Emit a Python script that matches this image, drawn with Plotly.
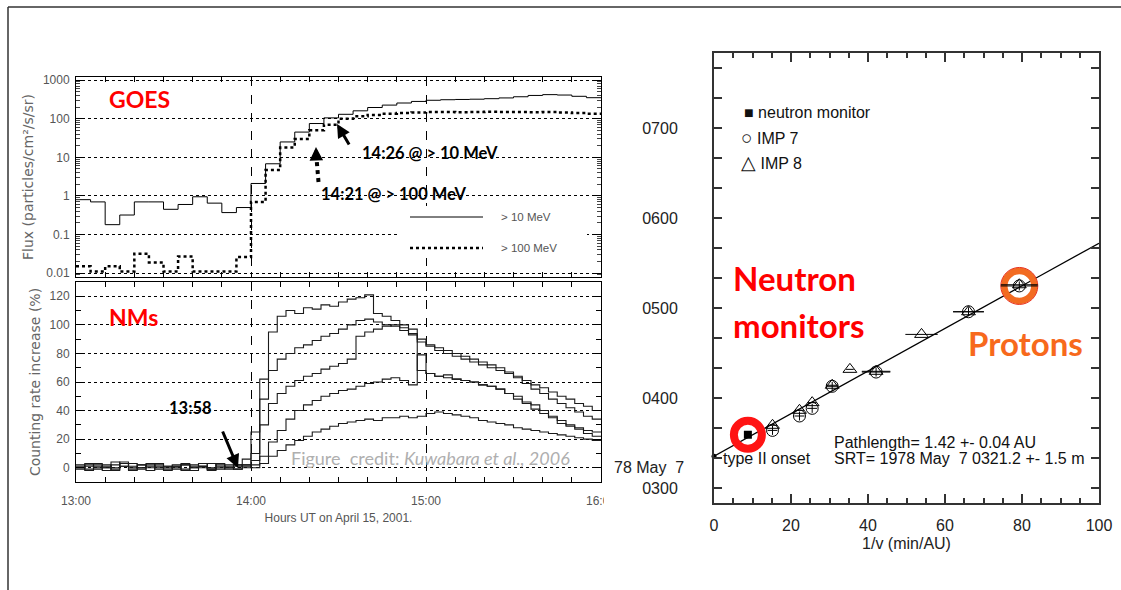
import plotly.graph_objects as go

W, H = 1121, 590
def px(x):
    return x / W
def py(y):
    return 1 - y / H

# ---------------- GOES proton flux (5-min bins, minutes after 13:00 UT) -------------
goes_min = list(range(0, 181, 5))
flux_10mev = [0.8, 0.7, 0.18, 0.32, 0.7, 0.7, 0.45, 0.6, 0.95, 0.65, 0.37, 0.5,
              2.1, 6.8, 25, 45, 75, 105, 130, 160, 195, 225, 255, 280,
              300, 310, 315, 320, 330, 345, 370, 400, 420, 410, 380, 350, 350]
flux_100mev = [0.015, 0.011, 0.015, 0.011, 0.032, 0.019, 0.011, 0.027, 0.011, 0.011, 0.011, 0.026,
               0.7, 4.7, 18, 30, 50, 70, 100, 115, 125, 135, 140, 145,
               150, 150, 148, 150, 152, 150, 150, 148, 150, 145, 140, 135, 135]

# ---------------- Neutron monitors (3-min bins, minutes after 13:00 UT) -------------
nm_min = list(range(0, 180, 3))
nm_a = [2, -1, 3, 0, 4, 1, -2, 2, 0, 3, -1, 1, 2, -2, 0, 3, 1, -1, 2, 6,
        25, 62, 95, 106, 110, 108, 112, 111, 114, 113, 116, 118, 119, 121, 108, 106, 103, 100, 97, 68,
        66, 64, 65, 62, 61, 60, 58, 57, 55, 52, 50, 46, 44, 40, 36, 33, 30, 28, 26, 25]
nm_b = [0, 3, 1, -2, 2, 4, 0, -1, 3, 1, 0, 2, -2, 1, 3, 0, -1, 2, 1, 2,
        10, 48, 68, 76, 80, 84, 86, 89, 92, 94, 97, 100, 103, 104, 102, 100, 99, 96, 93, 88,
        85, 82, 80, 78, 76, 74, 72, 70, 68, 66, 64, 61, 58, 56, 53, 50, 48, 45, 43, 40]
nm_c = [1, -2, 0, 2, -1, 3, 1, 0, -2, 2, 1, -1, 3, 0, 1, -1, 2, 0, -1, 1,
        5, 30, 45, 52, 57, 61, 64, 66, 69, 71, 73, 76, 92, 95, 97, 99, 100, 98, 94, 90,
        86, 84, 82, 80, 78, 76, 74, 72, 70, 67, 63, 59, 55, 52, 48, 45, 42, 39, 36, 34]
nm_d = [-1, 1, 2, 0, -2, 1, 3, 0, 2, -1, 1, 0, -1, 2, 1, -2, 0, 1, 2, 0,
        2, 8, 18, 26, 34, 40, 44, 47, 50, 52, 54, 55, 57, 59, 60, 62, 63, 61, 58, 79,
        66, 64, 63, 62, 61, 60, 58, 57, 55, 52, 48, 45, 41, 38, 35, 31, 29, 27, 24, 22]
nm_e = [0, 2, -1, 1, 0, 3, -1, 2, 1, 0, -2, 1, 2, 0, 1, -1, 3, 0, -1, 2,
        0, 3, 8, 12, 16, 19, 22, 25, 27, 29, 31, 32, 33, 34, 33, 35, 35, 36, 35, 36,
        38, 39, 38, 37, 36, 35, 33, 32, 31, 30, 28, 27, 26, 25, 24, 23, 22, 21, 20, 19]
nm_series = [nm_a, nm_b, nm_c, nm_d, nm_e]

time_ticks = [0, 60, 120, 180]
time_labels = ["13:00", "14:00", "15:00", "16:00"]

# ---------------- Velocity dispersion (1978 May 7) ----------------------------------
# y = onset time in minutes after 00:00 UT, x = 1/v (min/AU)
nm_x = [8.8]
nm_y = [215.5]
imp7_x = [15.2, 22.2, 25.5, 30.7, 42.1, 66.1, 79.3]
imp7_y = [218.4, 228.0, 233.1, 247.8, 257.3, 297.5, 314.7]
imp7_xerr = [1.3, 1.3, 1.3, 1.5, 3.7, 4.0, 4.8]
imp7_yerr = [3, 3, 3, 3, 3, 3, 3]
imp8_x = [15.2, 22.2, 25.5, 30.7, 35.3, 42.1, 53.9, 66.1, 79.3]
imp8_y = [221.8, 231.8, 236.9, 248.5, 259.1, 257.8, 282.4, 297.5, 315.5]
imp8_xerr = [1.2, 1.2, 1.2, 1.5, 1.0, 3.7, 4.2, 4.0, 4.8]
onset_x = [0]
onset_y = [201.2]
fit_srt = 201.2        # 0321.2 UT in minutes
fit_path = 1.42        # AU
fit_x = [0, 100]
fit_y = [fit_srt + fit_path * v for v in fit_x]
srt_ticks = [180, 240, 300, 360, 420]
srt_labels = ["0300", "0400", "0500", "0600", "0700"]

fig = go.Figure()

# GOES
fig.add_trace(go.Scatter(x=goes_min, y=flux_10mev, mode="lines", xaxis="x", yaxis="y",
                         line=dict(color="black", width=1, shape="hv"), showlegend=False))
fig.add_trace(go.Scatter(x=goes_min, y=flux_100mev, mode="lines", xaxis="x", yaxis="y",
                         line=dict(color="black", width=2.5, dash="dot", shape="hv"), showlegend=False))
# NMs
for s in nm_series:
    fig.add_trace(go.Scatter(x=nm_min + [180], y=s + [s[-1]], mode="lines", xaxis="x2", yaxis="y2",
                             line=dict(color="#1a1a1a", width=1.1, shape="hv"), showlegend=False))
# fit line
fig.add_trace(go.Scatter(x=fit_x, y=fit_y, mode="lines", xaxis="x3", yaxis="y3",
                         line=dict(color="black", width=1.3), showlegend=False))
# highlight rings
fig.add_trace(go.Scatter(x=nm_x, y=nm_y, mode="markers", xaxis="x3", yaxis="y3", showlegend=False,
                         marker=dict(symbol="circle-open", size=28, color="#FF1414", line=dict(width=8))))
fig.add_trace(go.Scatter(x=[imp7_x[-1]], y=[imp7_y[-1]], mode="markers", xaxis="x3", yaxis="y3", showlegend=False,
                         marker=dict(symbol="circle-open", size=30, color="#F26B21", line=dict(width=6.5))))
fig.add_trace(go.Scatter(x=[imp7_x[-1]], y=[imp7_y[-1]], mode="markers", xaxis="x3", yaxis="y3", showlegend=False,
                         marker=dict(symbol="circle-open", size=37, color="#E8301C", line=dict(width=1))))
# data
fig.add_trace(go.Scatter(x=imp7_x, y=imp7_y, mode="markers", xaxis="x3", yaxis="y3", showlegend=False,
                         marker=dict(symbol="circle-open", size=12, color="black", line=dict(width=1)),
                         error_x=dict(type="data", array=imp7_xerr, color="black", thickness=1, width=0),
                         error_y=dict(type="data", array=imp7_yerr, color="black", thickness=1, width=0)))
fig.add_trace(go.Scatter(x=imp8_x, y=imp8_y, mode="markers", xaxis="x3", yaxis="y3", showlegend=False,
                         marker=dict(symbol="triangle-up-open", size=12, color="black", line=dict(width=1)),
                         error_x=dict(type="data", array=imp8_xerr, color="black", thickness=1, width=0)))
fig.add_trace(go.Scatter(x=nm_x, y=nm_y, mode="markers", xaxis="x3", yaxis="y3", showlegend=False,
                         marker=dict(symbol="square", size=8, color="black")))
fig.add_trace(go.Scatter(x=onset_x, y=onset_y, mode="markers", xaxis="x3", yaxis="y3", showlegend=False,
                         cliponaxis=False, marker=dict(symbol="circle", size=5, color="black")))

lab_font = dict(family="Liberation Sans", size=12, color="#555555")
left_axis = dict(showline=True, linecolor="black", linewidth=1, mirror="allticks", zeroline=False,
                 ticks="inside", tickcolor="black")

fig.update_layout(
    width=W, height=H, margin=dict(l=0, r=0, t=0, b=0), template="none",
    paper_bgcolor="white", plot_bgcolor="white", showlegend=False,
    xaxis=dict(domain=[px(76), px(601)], anchor="y", range=[0, 180], tickmode="array",
               tickvals=time_ticks, showticklabels=False, ticklen=5,
               minor=dict(dtick=10, ticks="inside", ticklen=5, tickcolor="black"),
               showgrid=True, gridcolor="black", gridwidth=1, griddash="dash", **left_axis),
    yaxis=dict(domain=[py(277), py(77)], anchor="x", type="log", range=[-2.10, 3.08],
               tickmode="array", tickvals=[0.01, 0.1, 1, 10, 100, 1000],
               ticktext=["0.01", "0.1", "1", "10", "100", "1000"], ticklen=8,
               minor=dict(dtick="D1", ticks="inside", ticklen=4, tickcolor="#444"),
               tickfont=lab_font, ticklabelstandoff=3,
               showgrid=True, gridcolor="black", gridwidth=1, griddash="dot",
               title=dict(text="Flux (particles/cm²/s/sr)", font=dict(family="DejaVu Sans", size=14, color="#666"),
                          standoff=5),
               **left_axis),
    xaxis2=dict(domain=[px(76), px(601)], anchor="y2", range=[0, 180], tickmode="array",
                tickvals=time_ticks, ticktext=time_labels, ticklen=5, tickfont=lab_font,
                ticklabelstandoff=8,
                minor=dict(dtick=10, ticks="inside", ticklen=5, tickcolor="black"),
                showgrid=True, gridcolor="black", gridwidth=1, griddash="dash",
                title=dict(text="Hours UT on April 15, 2001.", font=dict(family="Liberation Sans", size=12, color="#555"),
                           standoff=6),
                **left_axis),
    yaxis2=dict(domain=[py(482), py(282)], anchor="x2", range=[-10, 130], tickmode="array",
                tickvals=[0, 20, 40, 60, 80, 100, 120], ticklen=8, tickfont=lab_font,
                ticklabelstandoff=3,
                minor=dict(dtick=10, ticks="inside", ticklen=5, tickcolor="black"),
                showgrid=True, gridcolor="black", gridwidth=1, griddash="dot",
                title=dict(text="Counting rate increase (%)", font=dict(family="DejaVu Sans", size=14, color="#666"),
                           standoff=5),
                **left_axis),
    xaxis3=dict(domain=[px(714), px(1099)], anchor="y3", range=[0, 100], dtick=20, tick0=0,
                ticks="inside", ticklen=9, tickcolor="#333", tickwidth=1.5,
                minor=dict(dtick=5, ticks="inside", ticklen=5, tickcolor="#333", tickwidth=1.5),
                showline=True, linecolor="#333", linewidth=2, mirror="allticks", showgrid=False, zeroline=False,
                tickfont=dict(family="Liberation Sans", size=16, color="#222"), ticklabelstandoff=7,
                title=dict(text="1/v (min/AU)", font=dict(family="Liberation Sans", size=16, color="#222"), standoff=5)),
    yaxis3=dict(domain=[py(503), py(53)], anchor="x3", range=[170, 470], tickmode="array",
                tickvals=srt_ticks, ticktext=srt_labels,
                ticks="inside", ticklen=8, tickcolor="#333", tickwidth=1.5,
                minor=dict(dtick=20, ticks="inside", ticklen=8, tickcolor="#333", tickwidth=1.5),
                showline=True, linecolor="#333", linewidth=2, mirror="allticks", showgrid=False, zeroline=False,
                tickfont=dict(family="Liberation Sans", size=16, color="#222"), ticklabelstandoff=31),
)

shapes = [
    # slide frame
    dict(type="line", xref="paper", yref="paper", x0=px(8), x1=1, y0=py(7), y1=py(7),
         line=dict(color="#333", width=1.5)),
    dict(type="line", xref="paper", yref="paper", x0=px(8), x1=px(8), y0=py(7), y1=0,
         line=dict(color="#333", width=1.5)),
    # GOES legend box
    dict(type="rect", xref="paper", yref="paper", x0=px(399), x1=px(587), y0=py(258), y1=py(206),
         fillcolor="white", line=dict(width=0), layer="above"),
    dict(type="line", xref="paper", yref="paper", x0=px(410), x1=px(483), y0=py(217), y1=py(217),
         line=dict(color="black", width=1), layer="above"),
    dict(type="line", xref="paper", yref="paper", x0=px(410), x1=px(483), y0=py(248), y1=py(248),
         line=dict(color="black", width=2.5, dash="dot"), layer="above"),
    # dotted arrow stem
    dict(type="line", xref="paper", yref="paper", x0=px(318.5), x1=px(316.5), y0=py(182), y1=py(158),
         line=dict(color="black", width=4, dash="dot"), layer="above"),
    # crop of the 16:00 label
    dict(type="rect", xref="paper", yref="paper", x0=px(604), x1=px(628), y0=py(507), y1=py(489),
         fillcolor="white", line=dict(width=0), layer="above"),
]
fig.update_layout(shapes=shapes)

def ann(x, y, text, size, color="black", family="Liberation Sans", bold=False, xanchor="left", **kw):
    t = f"<b>{text}</b>" if bold else text
    return dict(x=px(x), y=py(y), xref="paper", yref="paper", text=t, showarrow=False,
                xanchor=xanchor, yanchor="middle", font=dict(family=family, size=size, color=color), **kw)

red = "#FF0000"
sym = "<span style='font-size:19px'>{}</span>"
annotations = [
    ann(107, 99, "GOES", 23, red, "Lato", True),
    ann(107, 317, "NMs", 23, red, "Lato", True),
    ann(360, 153, "14:26 @ &gt; 10 MeV", 16.5, "black", "Lato", True),
    ann(319, 194, "14:21 @ &gt; 100 MeV", 16.5, "black", "Lato", True),
    ann(167, 408, "13:58", 16.5, "black", "Lato", True),
    ann(499, 217, "&gt; 10 MeV", 11.5, "#555"),
    ann(499, 248, "&gt; 100 MeV", 11.5, "#555"),
    ann(289, 458, "Figure  credit: <i>Kuwabara et al., 2006</i>", 18, "#AFAFAF", "Lato"),
    # arrows
    dict(x=px(337), y=py(124), xref="paper", yref="paper", ax=13, ay=22,
         showarrow=True, arrowhead=2, arrowsize=0.9, arrowwidth=3, arrowcolor="black", text=""),
    dict(x=px(316), y=py(147), xref="paper", yref="paper", ax=0.3, ay=12, showarrow=True,
         arrowhead=2, arrowsize=0.9, arrowwidth=3, arrowcolor="black", text=""),
    dict(x=px(238), y=py(468), xref="paper", yref="paper", ax=-16, ay=-38, showarrow=True,
         arrowhead=2, arrowsize=0.9, arrowwidth=3, arrowcolor="black", text=""),
    # right panel texts
    ann(731, 278, "Neutron", 33, red, "Lato", True),
    ann(731, 325, "monitors", 33, red, "Lato", True),
    ann(966, 343, "Protons", 33, "#F7691C", "Lato", True),
    ann(742, 112, "■ neutron monitor", 16, "#111"),
    ann(739, 137, sym.format("○") + " IMP 7", 16, "#111"),
    ann(739, 163, sym.format("△") + " IMP 8", 16, "#111"),
    ann(832, 442, "Pathlength= 1.42 +- 0.04 AU", 16, "#111"),
    ann(832, 458, "SRT= 1978 May  7 0321.2 +- 1.5 m", 16, "#111"),
    ann(721, 458, "type II onset", 16, "#111"),
    ann(686, 467, "78 May  7", 16, "#222", xanchor="right"),
]
fig.update_layout(annotations=annotations)

fig.write_html("out.html")
